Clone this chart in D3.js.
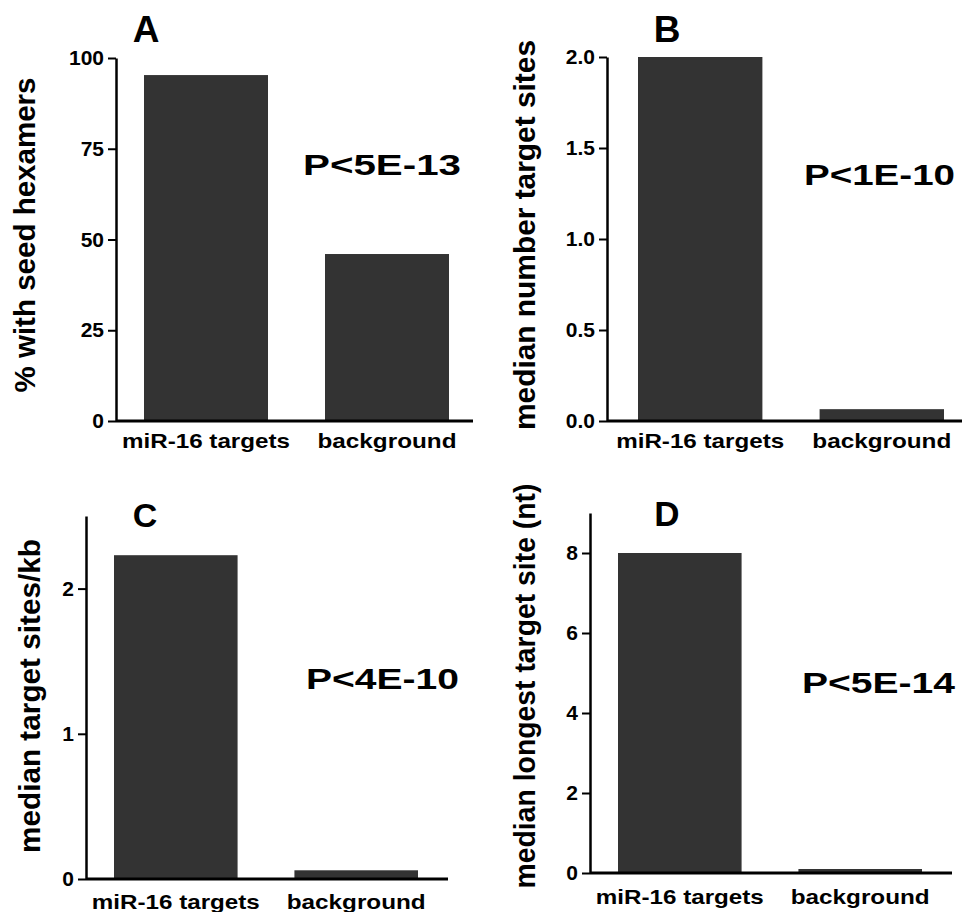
<!DOCTYPE html>
<html>
<head>
<meta charset="utf-8">
<script src="https://cdn.jsdelivr.net/npm/d3@7"></script>
<style>
  body { margin: 0; background: #fff; }
  svg { display: block; }
  text { font-family: "Liberation Sans", Arial, sans-serif; }
</style>
</head>
<body>
<div id="viz"></div>
<script>
'use strict';

// data
const categories = ['miR-16 targets', 'background'];
const valuesA = [95.3, 46.0];
const valuesB = [2.0, 0.065];
const valuesC = [2.23, 0.06];
const valuesD = [8.0, 0.1];
const ticksA = [0, 25, 50, 75, 100];
const ticksB = [0, 0.5, 1.0, 1.5, 2.0];
const ticksC = [0, 1, 2];
const ticksD = [0, 2, 4, 6, 8];
const yMaxes = [100, 2, 2.5, 9];
const panelLetters = ['A', 'B', 'C', 'D'];
const pValues = ['P<5E-13', 'P<1E-10', 'P<4E-10', 'P<5E-14'];
const yTitles = ['% with seed hexamers', 'median number target sites',
                 'median target sites/kb', 'median longest target site (nt)'];

const seriesValues = [valuesA, valuesB, valuesC, valuesD];
const seriesTicks = [ticksA, ticksB, ticksC, ticksD];

// panel placement (pixels)
const layout = [
    { axisX: 116, y0: 421, yTop: 58, xEnd: 473, barL: 144, barR: 449, fmt: d3.format('d'),
      letter: [146, 42, 37], p: [303, 175, 158], title: [35, 235, 315], labelY: 448 },
    { axisX: 607, y0: 421, yTop: 57, xEnd: 962, barL: 638, barR: 944, fmt: d3.format('.1f'),
      letter: [667, 42, 37], p: [804, 185, 151], title: [535, 235, 390], labelY: 448 },
    { axisX: 86, y0: 879, yTop: 516, xEnd: 448, barL: 114, barR: 418, fmt: d3.format('d'),
      letter: [145, 527, 34], p: [306, 689, 153], title: [40, 696, 314], labelY: 909 },
    { axisX: 590, y0: 873, yTop: 513, xEnd: 952, barL: 618, barR: 922, fmt: d3.format('d'),
      letter: [667, 526, 35], p: [802, 693, 153], title: [535, 686, 405], labelY: 904 }
];

const svg = d3.select('#viz').append('svg')
    .attr('width', 964)
    .attr('height', 912);

layout.forEach(function(L, i) {
    const g = svg.append('g').attr('class', 'panel');
    const values = seriesValues[i];

    const xScale = d3.scaleBand()
        .domain(categories)
        .range([L.barL, L.barR])
        .paddingInner(0.315)
        .paddingOuter(0);
    const yScale = d3.scaleLinear()
        .domain([0, yMaxes[i]])
        .range([L.y0, L.yTop]);

    // Bars
    g.selectAll('.bar')
        .data(values)
        .enter()
        .append('rect')
        .attr('class', 'bar')
        .attr('x', (d, j) => xScale(categories[j]))
        .attr('width', xScale.bandwidth())
        .attr('y', d => yScale(d))
        .attr('height', d => L.y0 - yScale(d))
        .attr('fill', '#333333');

    // y axis
    const yAxis = g.append('g')
        .attr('class', 'y axis')
        .attr('transform', `translate(${L.axisX},0)`)
        .call(d3.axisLeft(yScale)
            .tickValues(seriesTicks[i])
            .tickSize(8)
            .tickSizeOuter(0)
            .tickPadding(4)
            .tickFormat(L.fmt));
    yAxis.attr('font-size', 21).attr('font-family', '"Liberation Sans", Arial, sans-serif');
    yAxis.select('.domain').attr('stroke', '#000').attr('stroke-width', 2.5);
    yAxis.selectAll('.tick line').attr('stroke', '#000').attr('stroke-width', 2);
    yAxis.selectAll('.tick text')
        .attr('fill', '#000')
        .style('font-size', '21px')
        .style('font-weight', 'bold');

    // x baseline
    g.append('line')
        .attr('x1', L.axisX)
        .attr('x2', L.xEnd)
        .attr('y1', L.y0)
        .attr('y2', L.y0)
        .attr('stroke', '#000')
        .attr('stroke-width', 3);

    // Category labels
    g.selectAll('.xlabel')
        .data(categories)
        .enter()
        .append('text')
        .attr('class', 'xlabel')
        .attr('x', d => xScale(d) + xScale.bandwidth() / 2)
        .attr('y', L.labelY)
        .attr('text-anchor', 'middle')
        .attr('textLength', (d, j) => j === 0 ? 168 : 139)
        .attr('lengthAdjust', 'spacingAndGlyphs')
        .style('font-size', '21px')
        .style('font-weight', 'bold')
        .text(d => d);

    // Y title
    g.append('text')
        .attr('transform', `translate(${L.title[0]},${L.title[1]}) rotate(-90)`)
        .attr('text-anchor', 'middle')
        .attr('textLength', L.title[2])
        .attr('lengthAdjust', 'spacingAndGlyphs')
        .style('font-size', '29px')
        .style('font-weight', 'bold')
        .text(yTitles[i]);

    // Panel letter
    g.append('text')
        .attr('x', L.letter[0])
        .attr('y', L.letter[1])
        .attr('text-anchor', 'middle')
        .style('font-size', L.letter[2] + 'px')
        .style('font-weight', 'bold')
        .text(panelLetters[i]);

    // P value
    g.append('text')
        .attr('x', L.p[0])
        .attr('y', L.p[1])
        .attr('textLength', L.p[2])
        .attr('lengthAdjust', 'spacingAndGlyphs')
        .style('font-size', '29px')
        .style('font-weight', 'bold')
        .text(pValues[i]);
});
</script>
</body>
</html>
